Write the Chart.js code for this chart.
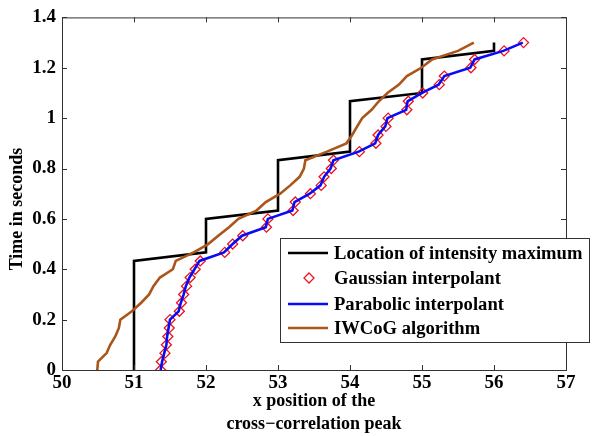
<!DOCTYPE html>
<html>
<head>
<meta charset="utf-8">
<script src="https://cdn.jsdelivr.net/npm/chart.js@4.4.0/dist/chart.umd.min.js"></script>
<style>
    html, body { margin: 0; padding: 0; background: #fff; }
    #wrap { width: 592px; height: 436px; }
</style>
</head>
<body>
<div id="wrap"><canvas id="peak_chart" width="592" height="436"></canvas></div>
<script>
// frame times (s)
const times = [0, 0.033, 0.067, 0.1, 0.133, 0.167, 0.2, 0.233, 0.267, 0.3,
    0.333, 0.367, 0.4, 0.433, 0.467, 0.5, 0.533, 0.567, 0.6, 0.633,
    0.667, 0.7, 0.733, 0.767, 0.8, 0.833, 0.867, 0.9, 0.933, 0.967,
    1, 1.033, 1.067, 1.1, 1.133, 1.167, 1.2, 1.233, 1.267, 1.3]

const intensityMax = [51, 51, 51, 51, 51, 51, 51, 51, 51, 51,
    51, 51, 51, 51, 52, 52, 52, 52, 52, 53,
    53, 53, 53, 53, 53, 53, 54, 54, 54, 54,
    54, 54, 54, 55, 55, 55, 55, 55, 56, 56]

const gaussian = [51.37, 51.38, 51.43, 51.45, 51.47, 51.49, 51.50, 51.63, 51.66, 51.69,
    51.73, 51.78, 51.85, 51.92, 52.26, 52.37, 52.51, 52.84, 52.86, 53.21,
    53.24, 53.45, 53.60, 53.64, 53.74, 53.77, 54.13, 54.36, 54.39, 54.50,
    54.53, 54.79, 54.81, 55.01, 55.24, 55.31, 55.68, 55.73, 56.14, 56.41]

const parabolic = [51.37, 51.39, 51.42, 51.45, 51.46, 51.48, 51.50, 51.62, 51.65, 51.69,
    51.72, 51.77, 51.84, 51.91, 52.25, 52.37, 52.50, 52.83, 52.86, 53.20,
    53.23, 53.44, 53.59, 53.64, 53.73, 53.77, 54.12, 54.35, 54.39, 54.49,
    54.52, 54.78, 54.80, 55.00, 55.23, 55.31, 55.67, 55.73, 56.13, 56.40]

const iwcog = [50.49, 50.50, 50.62, 50.67, 50.74, 50.79, 50.81, 50.97, 51.10, 51.21,
    51.27, 51.36, 51.54, 51.58, 51.83, 52.03, 52.17, 52.32, 52.45, 52.70,
    52.83, 53.03, 53.17, 53.30, 53.36, 53.38, 53.68, 53.95, 54.03, 54.10,
    54.17, 54.30, 54.40, 54.52, 54.68, 54.79, 54.99, 55.14, 55.50, 55.72]

const xTickLabels = ['50', '51', '52', '53', '54', '55', '56', '57']
const yTickLabels = ['0', '0.2', '0.4', '0.6', '0.8', '1', '1.2', '1.4']
const yTitle = 'Time in seconds'

const serif = '"Liberation Serif", "Times New Roman", serif'

function toPoints(xs) {
    return xs.map((x, i) => ({x: x, y: times[i]}))
}

// MATLAB style box, inward ticks, y label and the boxed legend
const matlabFrame = {
    id: 'matlabFrame',
    afterDatasetsDraw(chart) {
        const ctx = chart.ctx
        const a = chart.chartArea
        const xs = chart.scales.x
        const ys = chart.scales.y
        ctx.save()
        ctx.strokeStyle = '#333'
        ctx.lineWidth = 1
        ctx.strokeRect(a.left + 0.5, a.top + 0.5, a.right - a.left, a.bottom - a.top)
        ctx.beginPath()
        xTickLabels.forEach(function (lbl) {
            const px = Math.round(xs.getPixelForValue(Number(lbl))) + 0.5
            ctx.moveTo(px, a.bottom); ctx.lineTo(px, a.bottom - 5)
            ctx.moveTo(px, a.top); ctx.lineTo(px, a.top + 5)
        })
        yTickLabels.forEach(function (lbl) {
            const py = Math.round(ys.getPixelForValue(Number(lbl))) + 0.5
            ctx.moveTo(a.left, py); ctx.lineTo(a.left + 5, py)
            ctx.moveTo(a.right, py); ctx.lineTo(a.right - 5, py)
        })
        ctx.stroke()

        // y axis label, sits a little below the axis centre like the original
        ctx.save()
        ctx.translate(17, 209)
        ctx.rotate(-Math.PI / 2)
        ctx.font = 'bold 18px ' + serif
        ctx.fillStyle = '#000'
        ctx.textAlign = 'center'
        ctx.textBaseline = 'middle'
        ctx.fillText(yTitle, 0, 0)
        ctx.restore()

        // legend
        const box = {left: 280, top: 238, right: 589, bottom: 342}
        ctx.fillStyle = '#fff'
        ctx.fillRect(box.left, box.top, box.right - box.left, box.bottom - box.top)
        ctx.strokeStyle = '#333'
        ctx.lineWidth = 1
        ctx.strokeRect(box.left + 0.5, box.top + 0.5, box.right - box.left, box.bottom - box.top)
        const rows = [253, 278, 304, 328]
        ctx.font = 'bold 18.6px ' + serif
        ctx.textBaseline = 'middle'
        chart.data.datasets.forEach(function (ds, i) {
            const y = rows[i]
            ctx.strokeStyle = ds.borderColor
            if (ds.showLine === false) {
                ctx.lineWidth = 1.3
                ctx.beginPath()
                ctx.moveTo(309, y - 5); ctx.lineTo(314, y)
                ctx.lineTo(309, y + 5); ctx.lineTo(304, y)
                ctx.closePath()
                ctx.stroke()
            } else {
                ctx.lineWidth = ds.borderWidth
                ctx.beginPath()
                ctx.moveTo(288, y); ctx.lineTo(328, y)
                ctx.stroke()
            }
            ctx.fillStyle = '#000'
            ctx.fillText(ds.label, 334, y + 1)
        })
        ctx.restore()
    }
}

new Chart(document.getElementById('peak_chart'), {
    type: 'scatter',
    data: {
        datasets: [
            {
                label: 'Location of intensity maximum',
                data: toPoints(intensityMax),
                showLine: true,
                borderColor: '#000',
                borderWidth: 2.6,
                pointRadius: 0,
                order: 4,
            },
            {
                label: 'Gaussian interpolant',
                data: toPoints(gaussian),
                showLine: false,
                pointStyle: 'rectRot',
                pointRadius: 5,
                pointBorderWidth: 1.3,
                borderColor: '#e8141e',
                backgroundColor: 'rgba(0,0,0,0)',
                order: 3,
            },
            {
                label: 'Parabolic interpolant',
                data: toPoints(parabolic),
                showLine: true,
                borderColor: '#0a0af5',
                borderWidth: 2.6,
                pointRadius: 0,
                order: 2,
            },
            {
                label: 'IWCoG algorithm',
                data: toPoints(iwcog),
                showLine: true,
                borderColor: '#aa5519',
                borderWidth: 2.6,
                pointRadius: 0,
                order: 1,
            },
        ],
    },
    options: {
        responsive: false,
        animation: false,
        devicePixelRatio: 1,
        layout: {
            padding: {left: 0, right: 26, top: 15, bottom: 0},
        },
        elements: {
            line: {tension: 0},
        },
        plugins: {
            legend: {display: false},
            tooltip: {enabled: false},
        },
        scales: {
            x: {
                type: 'linear',
                min: 50,
                max: 57,
                grid: {display: false, drawTicks: false},
                border: {display: false},
                afterFit: function (scale) { scale.height = 66 },
                ticks: {
                    stepSize: 1,
                    padding: 2,
                    color: '#000',
                    font: {family: serif, size: 19, weight: 'bold'},
                    callback: function (value) {
                        return xTickLabels[Math.round(value - 50)]
                    },
                },
                title: {
                    display: true,
                    text: ['x position of the', 'cross\u2212correlation peak'],
                    color: '#000',
                    font: {family: serif, size: 18, weight: 'bold', lineHeight: 1.3},
                    padding: {top: 4, bottom: 0},
                },
            },
            y: {
                type: 'linear',
                min: 0,
                max: 1.4,
                grid: {display: false, drawTicks: false},
                border: {display: false},
                afterFit: function (scale) { scale.width = 62 },
                ticks: {
                    stepSize: 0.2,
                    padding: 6,
                    color: '#000',
                    font: {family: serif, size: 19, weight: 'bold'},
                    callback: function (value) {
                        return yTickLabels[Math.round(value / 0.2)]
                    },
                },
            },
        },
    },
    plugins: [matlabFrame],
});
</script>
</body>
</html>
